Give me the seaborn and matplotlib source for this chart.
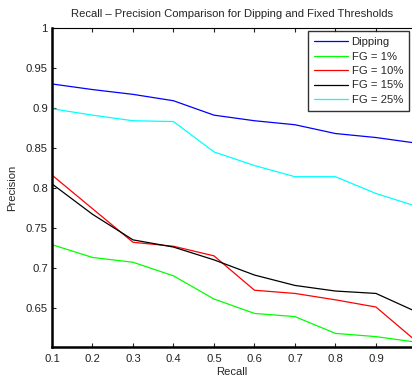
import matplotlib
matplotlib.use('Agg')
import matplotlib.pyplot as plt
import seaborn as sns
import pandas as pd

# recall levels and precision per method
recall = [0.1, 0.2, 0.3, 0.4, 0.5, 0.6, 0.7, 0.8, 0.9, 1.0]
dipping = [0.930, 0.923, 0.917, 0.909, 0.891, 0.884, 0.879, 0.868, 0.863, 0.856]
fg_1 = [0.729, 0.713, 0.707, 0.690, 0.661, 0.643, 0.639, 0.618, 0.614, 0.607]
fg_10 = [0.816, 0.774, 0.732, 0.727, 0.715, 0.672, 0.668, 0.660, 0.651, 0.608]
fg_15 = [0.805, 0.767, 0.735, 0.726, 0.710, 0.691, 0.678, 0.671, 0.668, 0.645]
fg_25 = [0.899, 0.891, 0.884, 0.883, 0.845, 0.828, 0.814, 0.814, 0.793, 0.777]

labels = ['Dipping', 'FG = 1%', 'FG = 10%', 'FG = 15%', 'FG = 25%']
colors = ['#0000ff', '#00ff00', '#ff0000', '#000000', '#00ffff']
series = [dipping, fg_1, fg_10, fg_15, fg_25]

df = pd.concat([pd.DataFrame({'Recall': recall, 'Precision': s, 'Method': lab})
                for s, lab in zip(series, labels)], ignore_index=True)

sns.set_style('white')
plt.rcParams['font.family'] = ['Liberation Sans', 'DejaVu Sans']
fs = 8.1

fig = plt.figure(figsize=(4.12, 3.8), dpi=100)
ax = fig.add_axes([52 / 412, 33 / 380, 360 / 412, 319 / 380])

sns.lineplot(data=df, x='Recall', y='Precision', hue='Method',
             palette=dict(zip(labels, colors)), linewidth=0.9, ax=ax)

ax.set_xlim(0.1, 0.989)
ax.set_ylim(0.601, 1.0)
ax.set_xticks([0.1, 0.2, 0.3, 0.4, 0.5, 0.6, 0.7, 0.8, 0.9])
ax.set_xticklabels(['0.1', '0.2', '0.3', '0.4', '0.5', '0.6', '0.7', '0.8', '0.9'])
ax.set_yticks([0.65, 0.7, 0.75, 0.8, 0.85, 0.9, 0.95, 1.0])
ax.set_yticklabels(['0.65', '0.7', '0.75', '0.8', '0.85', '0.9', '0.95', '1'])
ax.tick_params(direction='in', length=3, width=0.8, labelsize=fs, colors='#222222',
               top=True, right=False, left=True, bottom=True)
ax.tick_params(axis='x', pad=5)
ax.tick_params(axis='y', pad=3)

ax.spines['left'].set_linewidth(1.8)
ax.spines['bottom'].set_linewidth(1.8)
ax.spines['top'].set_linewidth(0.8)
ax.spines['right'].set_visible(False)
for s in ['left', 'bottom', 'top']:
    ax.spines[s].set_color('black')

ax.set_xlabel('Recall', fontsize=fs, labelpad=2)
ax.set_ylabel('Precision', fontsize=fs, labelpad=6)
ax.set_title('Recall \u2013 Precision Comparison for Dipping and Fixed Thresholds',
             fontsize=fs, pad=8)

leg = ax.legend(loc='upper right', fontsize=fs, frameon=True, fancybox=False,
                borderaxespad=0.3, handlelength=3.0, labelspacing=0.4,
                handletextpad=0.36, borderpad=0.5)
leg.get_frame().set_edgecolor('black')
leg.get_frame().set_linewidth(1.0)

fig.savefig('out.png', dpi=100)
